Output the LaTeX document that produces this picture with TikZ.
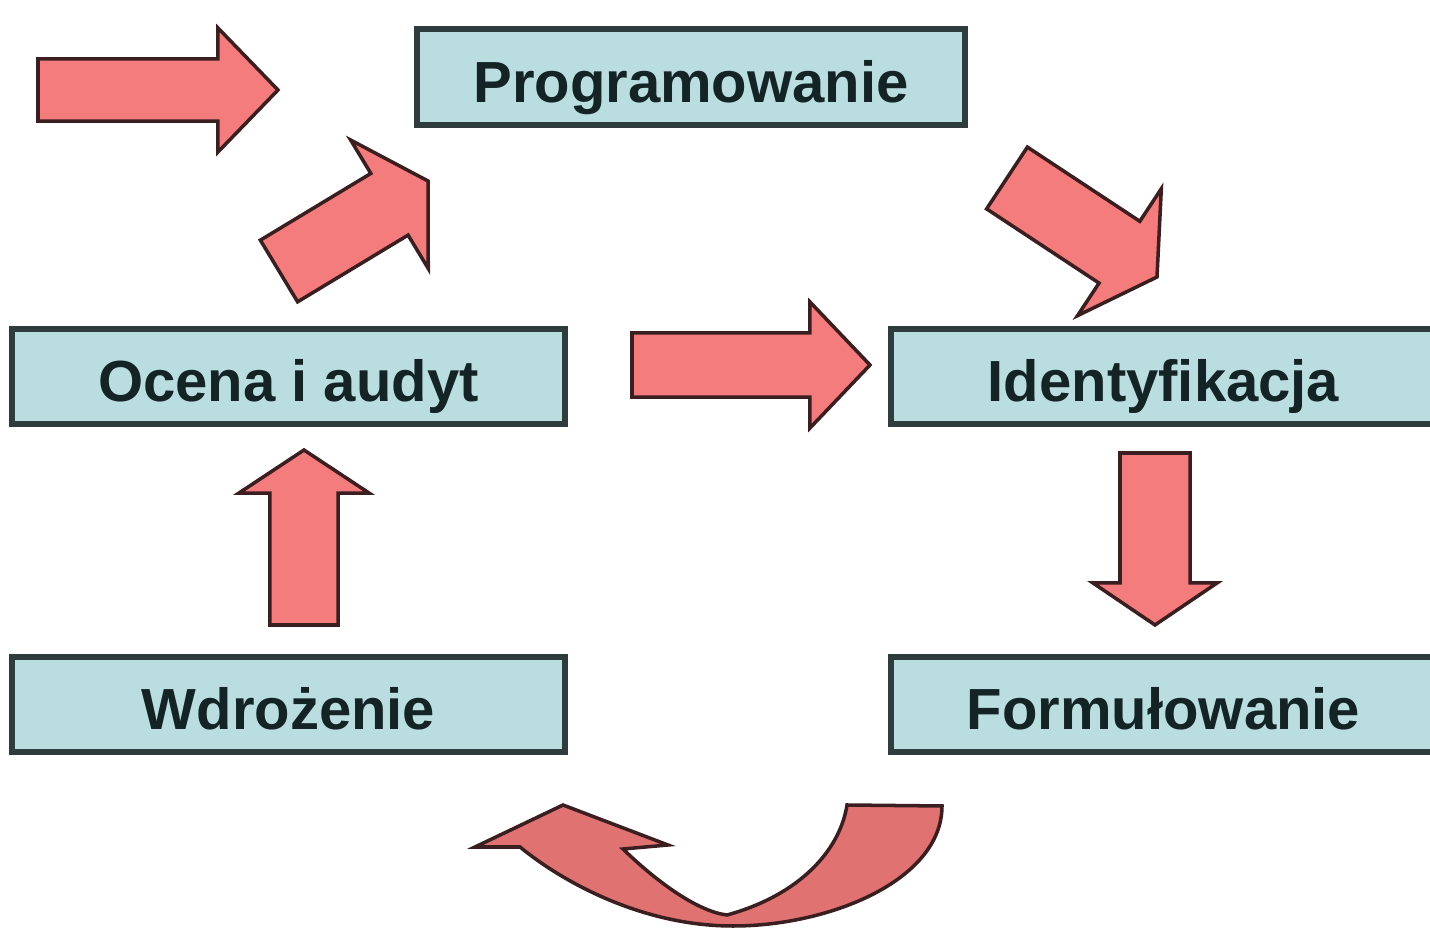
\documentclass[tikz,border=0pt]{standalone}
\usepackage{fontspec}
\setmainfont{Liberation Sans}
\usepackage{tikz}
\usetikzlibrary{positioning,calc}
\definecolor{turkus}{RGB}{186,222,224}
\definecolor{losos}{RGB}{244,124,124}
\definecolor{ramka}{RGB}{47,60,62}
\definecolor{obrys}{RGB}{58,30,32}
\definecolor{tekst}{RGB}{20,35,38}

% block arrow: tail, tip, half shaft, half head, head length
\newcommand{\strzalka}[5]{%
  \coordinate (sb) at ($(#2)!#5!(#1)$);
  \draw[blok] ($(#1)!#3!90:(#2)$) -- ($(sb)!#3!90:(#2)$) -- ($(sb)!#4!90:(#2)$) -- (#2)
    -- ($(sb)!#4!-90:(#2)$) -- ($(sb)!#3!-90:(#2)$) -- ($(#1)!#3!-90:(#2)$) -- cycle;}

\begin{document}
\begin{tikzpicture}[x=0.01cm, y=-0.01cm,
    node distance=2.27cm and 3.2cm,
    pole/.style={rectangle, draw=ramka, line width=1.7pt, fill=turkus, minimum width=5.53cm, minimum height=0.95cm,
        text height=0.5cm, text depth=0cm, text=tekst, font=\bfseries\fontsize{16.5}{20}\selectfont},
    blok/.style={fill=losos, draw=obrys, line width=1pt}
]
    \useasboundingbox (0,0) rectangle (1430,931);

    % Boxes
    \node[pole, minimum width=5.48cm] (prog) at (691,77) {Programowanie};
    \node[pole] (ocena) at (288.5,376.5) {Ocena i audyt};
    \node[pole, minimum width=5.44cm, right=of ocena] (ident) {Identyfikacja};
    \node[pole, below=of ocena] (wdroz) {Wdrożenie};
    \node[pole, minimum width=5.44cm, below=of ident] (form) {Formułowanie};

    % Arrow ends
    \foreach \n/\x/\y in {s1/38/90, k1/278/90, s2/279/271, k2/428/181, s3/1007/178, k3/1157/277,
        s4/632/365, k4/870/365, s5/1155/453, k5/1155/625, s6/304/625, k6/304/450}
        \coordinate (\n) at (\x,\y);

    % Arrows
    \strzalka{s1}{k1}{0.31cm}{0.62cm}{0.6cm}
    \strzalka{s2}{k2}{0.36cm}{0.75cm}{0.45cm}
    \strzalka{s3}{k3}{0.37cm}{0.76cm}{0.45cm}
    \strzalka{s4}{k4}{0.32cm}{0.63cm}{0.6cm}
    \strzalka{s5}{k5}{0.35cm}{0.62cm}{0.42cm}
    \strzalka{s6}{k6}{0.34cm}{0.65cm}{0.43cm}

    % Return arrow
    \draw[blok, fill=losos!92!black] (847,805) -- (942,806)
        .. controls (942,880) and (830,926) .. (733,926)
        .. controls (640,926) and (560,880) .. (520,847)
        -- (475,847) -- (563,805) -- (668,845) -- (623,849)
        .. controls (660,885) and (700,912) .. (727,915)
        .. controls (800,895) and (840,850) .. (847,805) -- cycle;

\end{tikzpicture}
\end{document}
